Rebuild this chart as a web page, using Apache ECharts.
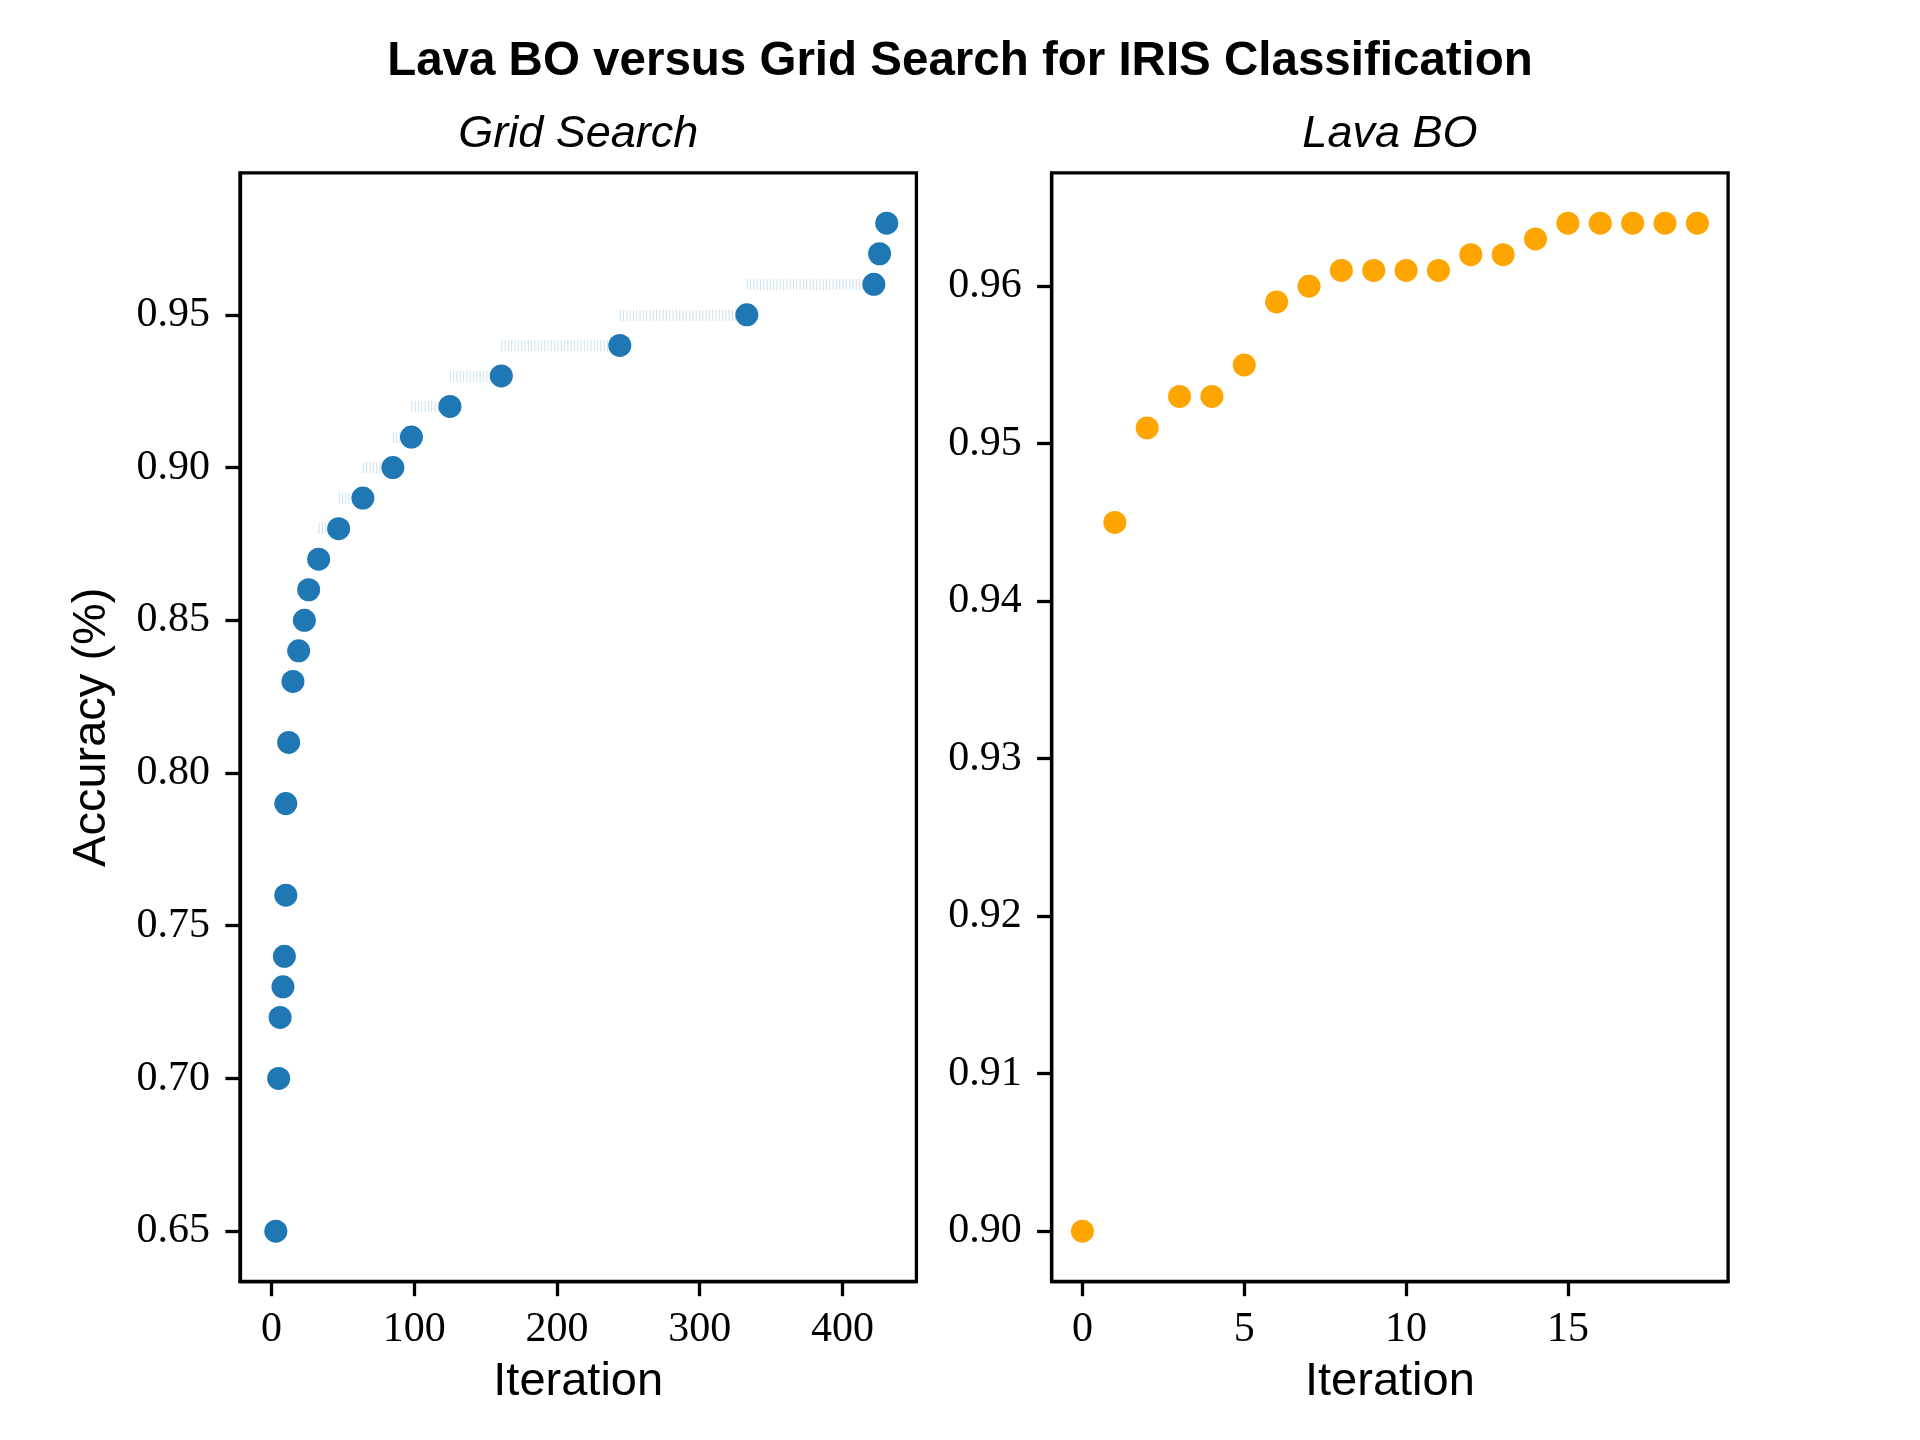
<!DOCTYPE html>
<html>
<head>
<meta charset="utf-8">
<script src="https://cdn.jsdelivr.net/npm/echarts@6/dist/echarts.min.js"></script>
<style>
  html, body { margin: 0; padding: 0; background: #fff; }
  #chart { width: 1920px; height: 1440px; }
</style>
</head>
<body>
<div id="chart"></div>
<script>
// ---- Data ----
const gridSearchX = [3, 5, 6, 8, 9, 10, 10, 12, 15, 19, 23, 26, 33, 47, 64, 85, 98, 125, 161, 244, 333, 422, 426, 431];
const gridSearchY = [0.65, 0.70, 0.72, 0.73, 0.74, 0.76, 0.79, 0.81, 0.83, 0.84, 0.85, 0.86, 0.87, 0.88, 0.89, 0.90, 0.91, 0.92, 0.93, 0.94, 0.95, 0.96, 0.97, 0.98];
const lavaX = [0, 1, 2, 3, 4, 5, 6, 7, 8, 9, 10, 11, 12, 13, 14, 15, 16, 17, 18, 19];
const lavaY = [0.900, 0.945, 0.951, 0.953, 0.953, 0.955, 0.959, 0.960, 0.961, 0.961, 0.961, 0.961, 0.962, 0.962, 0.963, 0.964, 0.964, 0.964, 0.964, 0.964];
const gridXTicks = [0, 100, 200, 300, 400];
const gridYTicks = [0.65, 0.70, 0.75, 0.80, 0.85, 0.90, 0.95];
const lavaXTicks = [0, 5, 10, 15];
const lavaYTicks = [0.90, 0.91, 0.92, 0.93, 0.94, 0.95, 0.96];
const titleText = 'Lava BO versus Grid Search for IRIS Classification';
const leftTitle = 'Grid Search';
const rightTitle = 'Lava BO';
const xLabel = 'Iteration';
const yLabel = 'Accuracy (%)';

// ---- Layout / style ----
const SERIF = '"Liberation Serif", "DejaVu Serif", serif';
const SANS = '"Liberation Sans", Arial, sans-serif';
const LW = 3.3;
const axL = 240, axTop = 172.8, axW = 676.4, axH = 1108.8, gap = 135.3;
const axR = axL + axW + gap;

function xAxisCfg(idx, min, max, ticks, name) {
  return {
    type: 'value', gridIndex: idx, min: min, max: max,
    name: name, nameLocation: 'middle', nameGap: 77,
    nameTextStyle: { fontFamily: SANS, fontSize: 47, color: '#000' },
    axisLine: { show: true, onZero: false, lineStyle: { color: '#000', width: LW } },
    axisTick: { show: true, length: 14.6, lineStyle: { color: '#000', width: LW }, customValues: ticks },
    axisLabel: { show: true, margin: 27, fontFamily: SERIF, fontSize: 42, color: '#000', customValues: ticks,
      formatter: v => String(v) },
    splitLine: { show: false }
  };
}
function yAxisCfg(idx, min, max, ticks, name) {
  return {
    type: 'value', gridIndex: idx, min: min, max: max,
    name: name || '', nameLocation: 'middle', nameGap: 124, nameRotate: 90,
    nameTextStyle: { fontFamily: SANS, fontSize: 47, color: '#000' },
    axisLine: { show: true, onZero: false, lineStyle: { color: '#000', width: LW } },
    axisTick: { show: true, length: 14.6, lineStyle: { color: '#000', width: LW }, customValues: ticks },
    axisLabel: { show: true, margin: 30, fontFamily: SERIF, fontSize: 42, color: '#000', customValues: ticks,
      formatter: v => v.toFixed(2) },
    splitLine: { show: false }
  };
}

const segments = gridSearchY.map((y, i) => ({
  coords: [[i === 0 ? 0 : gridSearchX[i - 1], y], [gridSearchX[i], y]]
}));

const chart = echarts.init(document.getElementById('chart'), null, { renderer: 'canvas' });
chart.setOption({
  backgroundColor: '#fff',
  animation: false,
  title: [
    { text: titleText, left: 960, textAlign: 'center', top: 38, padding: 0,
      textStyle: { fontFamily: SANS, fontWeight: 'bold', fontSize: 47.5, color: '#000' } },
    { text: leftTitle, left: axL + axW / 2, textAlign: 'center', top: 112, padding: 0,
      textStyle: { fontFamily: SANS, fontStyle: 'italic', fontWeight: 'normal', fontSize: 45, color: '#000' } },
    { text: rightTitle, left: axR + axW / 2, textAlign: 'center', top: 112, padding: 0,
      textStyle: { fontFamily: SANS, fontStyle: 'italic', fontWeight: 'normal', fontSize: 45, color: '#000' } }
  ],
  grid: [
    { left: axL, top: axTop, width: axW, height: axH, show: true, borderColor: '#000', borderWidth: LW, backgroundColor: 'transparent', containLabel: false },
    { left: axR, top: axTop, width: axW, height: axH, show: true, borderColor: '#000', borderWidth: LW, backgroundColor: 'transparent', containLabel: false }
  ],
  xAxis: [
    xAxisCfg(0, -22.1, 451.8, gridXTicks, xLabel),
    xAxisCfg(1, -0.95, 19.95, lavaXTicks, xLabel)
  ],
  yAxis: [
    yAxisCfg(0, 0.6335, 0.9965, gridYTicks, yLabel),
    yAxisCfg(1, 0.8968, 0.9672, lavaYTicks, '')
  ],
  series: [
    {
      type: 'lines', coordinateSystem: 'cartesian2d', xAxisIndex: 0, yAxisIndex: 0,
      silent: true, z: 1,
      lineStyle: { color: '#1f77b4', opacity: 0.22, width: 11, type: [1, 2.3], curveness: 0 },
      data: segments
    },
    {
      type: 'scatter', xAxisIndex: 0, yAxisIndex: 0, z: 3,
      symbol: 'circle', symbolSize: 23,
      itemStyle: { color: '#1f77b4', opacity: 1 },
      data: gridSearchX.map((x, i) => [x, gridSearchY[i]])
    },
    {
      type: 'scatter', xAxisIndex: 1, yAxisIndex: 1, z: 3,
      symbol: 'circle', symbolSize: 23,
      itemStyle: { color: '#ffa500', opacity: 1 },
      data: lavaX.map((x, i) => [x, lavaY[i]])
    }
  ]
});
</script>
</body>
</html>
